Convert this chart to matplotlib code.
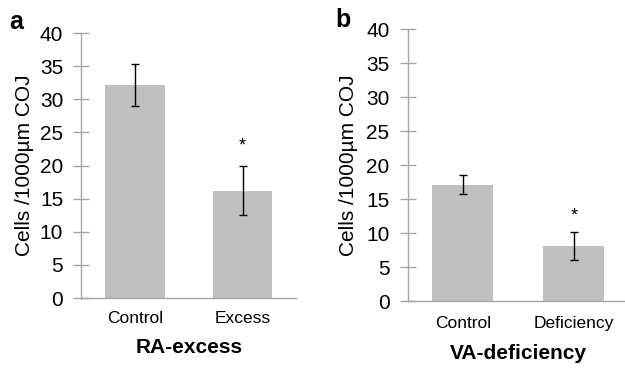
import matplotlib
matplotlib.use("Agg")
import matplotlib.pyplot as plt

plt.rcParams['font.family'] = ['Liberation Sans', 'DejaVu Sans']

cats_a = ["Control", "Excess"]
vals_a = [32.2, 16.2]
err_lo_a = [3.2, 3.7]
err_hi_a = [3.2, 3.7]
cats_b = ["Control", "Deficiency"]
vals_b = [17.1, 8.1]
err_lo_b = [1.4, 2.0]
err_hi_b = [1.5, 2.1]
yticks = [0, 5, 10, 15, 20, 25, 30, 35, 40]
star_a = 22.9
star_b = 12.5

fig = plt.figure(figsize=(6.25, 3.68), dpi=100)
bar_color = "#BFBFBF"
axis_color = "#A6A6A6"

def panel(rect, cats, vals, lo, hi, star_y, star_idx, title, letter, letter_pos,
          ylabelpad, xtickpad, xlabelpad):
    ax = fig.add_axes(rect)
    x = list(range(len(cats)))
    ax.bar(x, vals, width=0.55, color=bar_color, zorder=2)
    ax.errorbar(x, vals, yerr=[lo, hi], fmt='none', ecolor='black',
                elinewidth=1.0, capsize=3, capthick=1.0, zorder=3)
    ax.text(star_idx, star_y, "*", ha='center', va='center', fontsize=13)
    ax.set_xlim(-0.5, len(cats) - 0.5)
    ax.set_ylim(0, 40)
    ax.set_yticks(yticks)
    ax.set_yticklabels([str(t) for t in yticks], fontsize=15)
    ax.set_xticks(x)
    ax.set_xticklabels(cats, fontsize=12.5)
    ax.tick_params(axis='x', length=0, pad=xtickpad)
    ax.tick_params(axis='y', length=12, direction='inout', color=axis_color,
                   width=1.0, pad=7)
    for s in ['top', 'right']:
        ax.spines[s].set_visible(False)
    for s in ['left', 'bottom']:
        ax.spines[s].set_color(axis_color)
        ax.spines[s].set_linewidth(1.0)
    ax.set_ylabel("Cells /1000µm COJ", fontsize=15, labelpad=ylabelpad)
    ax.set_xlabel(title, fontsize=15, fontweight='bold', labelpad=xlabelpad)
    fig.text(letter_pos[0], letter_pos[1], letter, fontsize=18,
             fontweight='bold', ha='left', va='center')
    return ax

panel([0.13, 0.19, 0.344, 0.72], cats_a, vals_a, err_lo_a, err_hi_a,
      star_a, 1, "RA-excess", "a", (0.014, 0.94), 4, 9, 9)
panel([0.652, 0.182, 0.355, 0.738], cats_b, vals_b, err_lo_b, err_hi_b,
      star_b, 1, "VA-deficiency", "b", (0.537, 0.945), 6, 11, 9.5)

fig.savefig("out.png", dpi=100)
